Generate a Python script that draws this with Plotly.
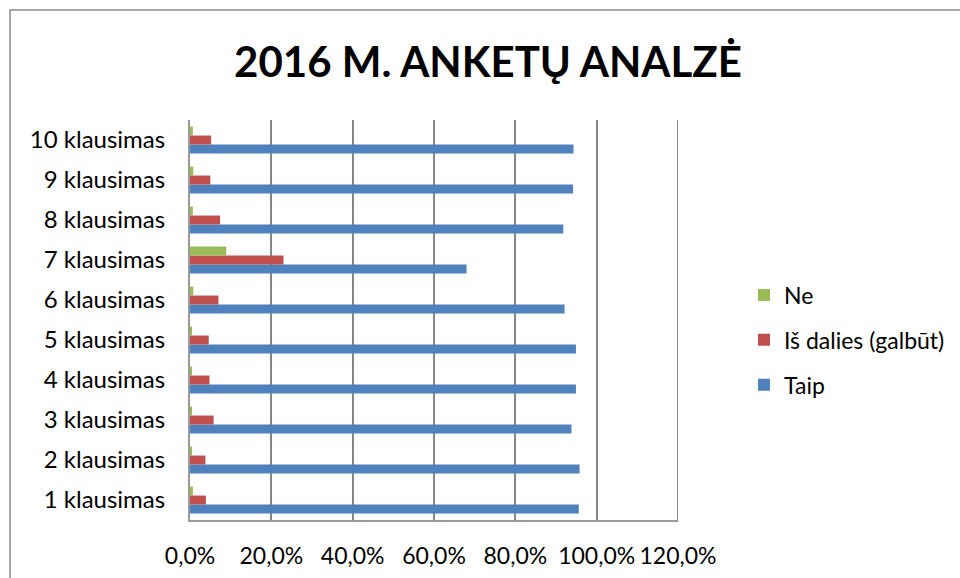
import plotly.graph_objects as go

categories = ["1 klausimas", "2 klausimas", "3 klausimas", "4 klausimas", "5 klausimas",
              "6 klausimas", "7 klausimas", "8 klausimas", "9 klausimas", "10 klausimas"]
taip = [0.956, 0.958, 0.938, 0.949, 0.949, 0.921, 0.680, 0.918, 0.942, 0.943]
is_dalies = [0.039, 0.038, 0.058, 0.048, 0.046, 0.070, 0.230, 0.074, 0.050, 0.052]
ne = [0.007, 0.004, 0.004, 0.004, 0.004, 0.008, 0.089, 0.007, 0.008, 0.007]

series_names = ["Taip", "Iš dalies (galbūt)", "Ne"]
series_values = [taip, is_dalies, ne]
series_colors = ["#4F81BD", "#C0504D", "#9BBB59"]
legend_ranks = [3, 2, 1]

tick_vals = [0, 0.2, 0.4, 0.6, 0.8, 1.0, 1.2]
tick_text = ["0,0%", "20,0%", "40,0%", "60,0%", "80,0%", "100,0%", "120,0%"]

FONT = "Lato, Carlito, Calibri, sans-serif"

fig = go.Figure()
for i, (name, vals, col, rk) in enumerate(zip(series_names, series_values, series_colors, legend_ranks)):
    fig.add_trace(go.Bar(
        y=categories, x=vals, name=name, orientation="h",
        marker=dict(color=col, line=dict(width=0)),
        legendgroup=f"g{i}", legendrank=rk,
    ))

fig.update_layout(
    width=960, height=578,
    margin=dict(l=190, r=282, t=120, b=58),
    paper_bgcolor="white", plot_bgcolor="white",
    barmode="group", bargap=0.33, bargroupgap=0,
    font=dict(family=FONT, size=23, color="#000000"),
    title=dict(text="<b>2016 M. ANKETŲ ANALZĖ</b>", x=488/960, xanchor="center",
               y=1 - 62/578, yanchor="middle",
               font=dict(family=FONT, size=42, color="#000000")),
    legend=dict(xref="container", yref="container",
                x=744/960, xanchor="left", y=1 - 340/578, yanchor="middle",
                traceorder="grouped", tracegroupgap=12,
                font=dict(family=FONT, size=23), bgcolor="rgba(0,0,0,0)"),
    showlegend=True,
)
fig.update_xaxes(range=[0, 1.2], tickvals=tick_vals, ticktext=tick_text,
                 tickfont=dict(size=23), automargin=False,
                 showgrid=True, gridcolor="#868686", gridwidth=2,
                 zeroline=False, showline=True, linecolor="#9a9a9a", linewidth=2,
                 mirror=False, ticks="", ticklabelstandoff=14, fixedrange=True)
fig.update_yaxes(categoryorder="array", categoryarray=categories,
                 tickfont=dict(size=24), automargin=False,
                 showgrid=False, zeroline=False, showline=True, linecolor="#9a9a9a",
                 linewidth=2, ticks="", ticklabelstandoff=18, fixedrange=True)

# right-edge 120% line
fig.add_shape(type="line", xref="x", yref="paper", x0=1.2, x1=1.2, y0=0, y1=1,
              line=dict(color="#868686", width=2), layer="below")
# outer chart border
fig.add_shape(type="rect", xref="paper", yref="paper",
              x0=(10-190)/488, x1=(990-190)/488, y0=(520-600)/400, y1=(520-10)/400,
              line=dict(color="#8c8c8c", width=1.5), fillcolor="rgba(0,0,0,0)", layer="below")

fig.write_html("out.html", config={"displayModeBar": False},
               post_script="document.body.style.margin='0';")
